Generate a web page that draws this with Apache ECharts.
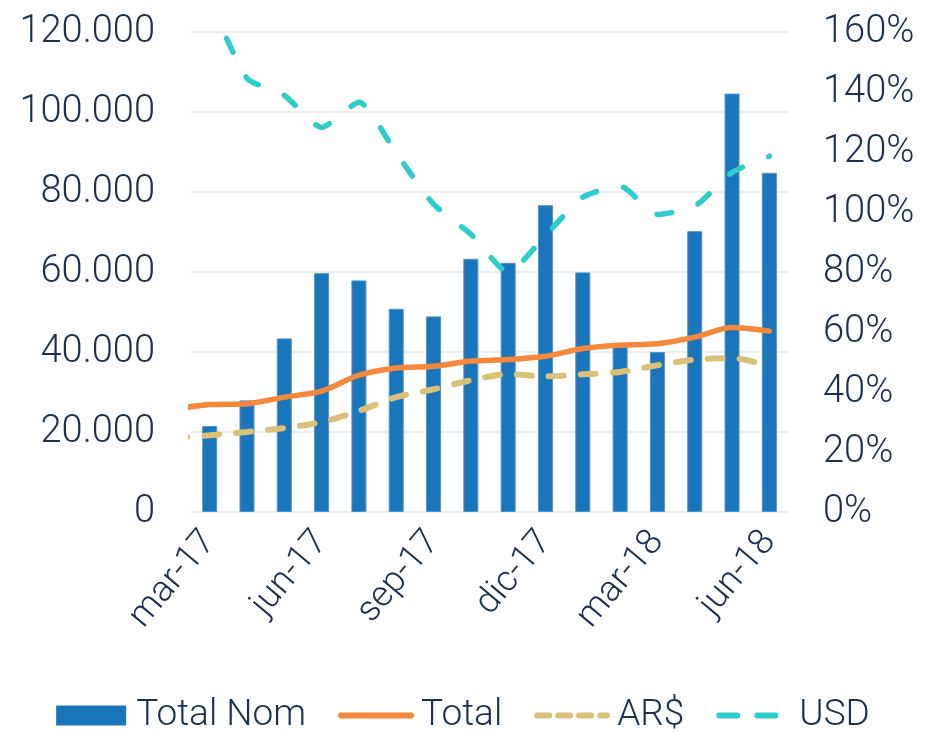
<!DOCTYPE html>
<html>
<head>
<meta charset="utf-8">
<script src="https://cdn.jsdelivr.net/npm/echarts@6/dist/echarts.min.js"></script>
<style>
  html, body { margin: 0; padding: 0; background: #fff; }
  #main { width: 926px; height: 733px; }
</style>
</head>
<body>
<div id="main"></div>
<script>
// categorias (meses)
var months = ['mar-17', 'abr-17', 'may-17', 'jun-17', 'jul-17', 'ago-17', 'sep-17', 'oct-17',
              'nov-17', 'dic-17', 'ene-18', 'feb-18', 'mar-18', 'abr-18', 'may-18', 'jun-18'];

// barras, eje izquierdo
var totalNom = [21500, 27900, 43400, 59700, 57900, 50800, 48900, 63300,
                62300, 76700, 59900, 41500, 40000, 70200, 104600, 84800];

// lineas en %, eje derecho. Total y AR$ arrancan en feb-17 (se ve el tramo cortado a la izquierda)
var totalPct = [34.2, 35.8, 36.1, 38.3, 40.3, 45.6, 48.0, 48.6, 50.3,
                50.8, 51.9, 54.5, 55.6, 56.1, 58.3, 61.5, 60.3];
var arsPct   = [24.6, 25.6, 26.7, 28.0, 30.0, 33.7, 38.3, 40.9, 43.9,
                45.9, 45.2, 45.9, 46.7, 48.9, 50.8, 51.3, 48.6];
var usdPct   = [171, 144.6, 138.9, 128.2, 136.6, 119.6, 102.6, 92.6,
                79.9, 92.2, 104.9, 108.6, 99.2, 101.9, 113.2, 118.6];

var leftTicks = [0, 20000, 40000, 60000, 80000, 100000, 120000];
var rightTicks = [0, 20, 40, 60, 80, 100, 120, 140, 160];

var textColor = '#1c2f4e';
var font = 'Roboto';
var cBlue = '#1b75bb', cOrange = '#f5883a', cTan = '#dbc077', cTeal = '#2ecdcd';

// pasa un array a pares [indice de mes, valor]; start = -1 si arranca en feb-17
function toXY(arr, start) {
    return arr.map(function (v, k) { return [k + start, v]; });
}

// item de leyenda solo con la linea (sin simbolo)
function lineLegend(name, type) {
    return {
        name: name,
        itemStyle: { opacity: 0 },
        lineStyle: { width: 6, type: type, cap: 'round' }
    };
}

var myChart = echarts.init(document.getElementById('main'));

var option = {
    animation: false,
    backgroundColor: '#fff',
    grid: { left: 191, right: 138, top: 32, bottom: 221 },
    legend: {
        top: 692,
        left: 'center',
        itemWidth: 70,
        itemHeight: 20,
        itemGap: 32,
        textStyle: { color: textColor, fontFamily: font, fontWeight: 300, fontSize: 37, padding: [0, 0, 0, 5] },
        data: [
            { name: 'Total Nom', icon: 'rect', itemStyle: { borderWidth: 0, color: cBlue } },
            lineLegend('Total', 'solid'),
            lineLegend('AR$', [12, 9]),
            lineLegend('USD', [18, 20])
        ]
    },
    xAxis: [
        {
            type: 'category',
            data: months,
            axisLine: { show: false },
            axisTick: { show: false },
            axisLabel: {
                interval: 2,
                rotate: 50,
                margin: 24,
                color: textColor,
                fontFamily: font,
                fontWeight: 300,
                fontSize: 36
            }
        },
        {
            // eje oculto para las lineas, alineado con el centro de cada mes
            type: 'value',
            min: -0.5,
            max: months.length - 0.5,
            show: false
        }
    ],
    yAxis: [
        {
            type: 'value',
            min: leftTicks[0],
            max: leftTicks[leftTicks.length - 1],
            interval: 20000,
            axisLine: { show: false },
            axisTick: { show: false },
            splitLine: { lineStyle: { color: '#eeeeee', width: 2 } },
            axisLabel: {
                margin: 36,
                color: textColor,
                fontFamily: font,
                fontWeight: 300,
                fontSize: 38,
                formatter: function (v) {
                    return v.toString().replace(/\B(?=(\d{3})+(?!\d))/g, '.');
                }
            }
        },
        {
            type: 'value',
            min: rightTicks[0],
            max: rightTicks[rightTicks.length - 1],
            interval: 20,
            axisLine: { show: false },
            axisTick: { show: false },
            splitLine: { show: false },
            axisLabel: {
                margin: 35,
                color: textColor,
                fontFamily: font,
                fontWeight: 300,
                fontSize: 38,
                formatter: '{value}%'
            }
        }
    ],
    series: [
        {
            name: 'Total Nom',
            type: 'bar',
            barWidth: 15,
            data: totalNom,
            itemStyle: { color: cBlue, borderColor: '#4d92cc', borderWidth: 1 }
        },
        {
            name: 'Total',
            type: 'line',
            xAxisIndex: 1,
            yAxisIndex: 1,
            data: toXY(totalPct, -1),
            symbol: 'none',
            smooth: 0.3,
            lineStyle: { color: cOrange, width: 5.5, cap: 'round' },
            itemStyle: { color: cOrange }
        },
        {
            name: 'AR$',
            type: 'line',
            xAxisIndex: 1,
            yAxisIndex: 1,
            data: toXY(arsPct, -1),
            symbol: 'none',
            smooth: 0.3,
            lineStyle: { color: cTan, width: 6, type: [15, 17], cap: 'round' },
            itemStyle: { color: cTan }
        },
        {
            name: 'USD',
            type: 'line',
            xAxisIndex: 1,
            yAxisIndex: 1,
            data: toXY(usdPct, 0),
            symbol: 'none',
            smooth: 0.2,
            lineStyle: { color: cTeal, width: 5.5, type: [15, 28], cap: 'round' },
            itemStyle: { color: cTeal }
        }
    ]
};

myChart.setOption(option);
</script>
</body>
</html>
